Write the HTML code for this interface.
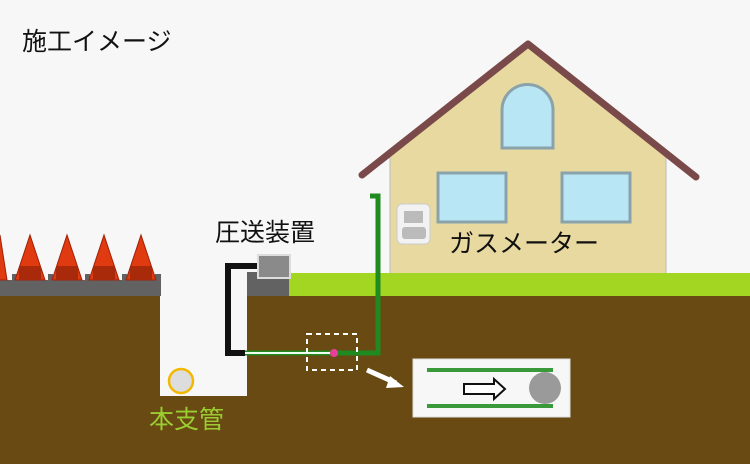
<!DOCTYPE html>
<html><head><meta charset="utf-8"><style>
body{margin:0;background:#f7f7f7;}
svg{display:block}
text{font-family:"Liberation Sans","Noto Sans CJK JP",sans-serif;}
</style></head><body>
<svg width="750" height="464" viewBox="0 0 750 464">
<rect width="750" height="464" fill="#f7f7f7"/>
<rect x="0" y="296" width="750" height="168" fill="#684a12"/>
<rect x="160" y="294" width="87" height="102" fill="#f7f7f7"/>
<rect x="0" y="280" width="161" height="16" fill="#626262"/>
<g fill="#626262">
<rect x="12" y="274" width="5" height="8"/><rect x="48" y="274" width="5" height="8"/><rect x="85" y="274" width="5" height="8"/><rect x="122" y="274" width="5" height="8"/><rect x="155" y="274" width="6" height="8"/>
</g>
<g fill="#e03a10" stroke="#a02008" stroke-width="1">
<polygon points="-7,280 0,235 7,280"/>
<polygon points="15,280 30,235 45,280"/>
<polygon points="52,280 67,235 82,280"/>
<polygon points="89,280 104,235 119,280"/>
<polygon points="126,280 141,235 156,280"/>
</g>
<g fill="#a82a0a">
<rect x="19" y="266" width="22" height="14"/><rect x="56" y="266" width="22" height="14"/><rect x="93" y="266" width="22" height="14"/><rect x="130" y="266" width="22" height="14"/>
</g>
<rect x="247" y="272" width="42" height="24" fill="#626262"/>
<!-- house -->
<polygon points="390,153 528,44 666,153 666,274 390,274" fill="#e8d9a0"/>
<line x1="390" y1="153" x2="390" y2="274" stroke="#bbb"/>
<line x1="666" y1="153" x2="666" y2="274" stroke="#bbb"/>
<polyline points="362,175 528,44 696,177" fill="none" stroke="#7a4a4a" stroke-width="7" stroke-linejoin="round" stroke-linecap="round"/>
<path d="M502,148 V110 A25.5,25.5 0 0 1 553,110 V148 Z" fill="#b8e6f5" stroke="#8aa3ab" stroke-width="3"/>
<rect x="438" y="173" width="68" height="49" fill="#b8e6f5" stroke="#8aa3ab" stroke-width="3"/>
<rect x="562" y="173" width="68" height="49" fill="#b8e6f5" stroke="#8aa3ab" stroke-width="3"/>
<rect x="397" y="204" width="33" height="40" rx="5" fill="#f2f2f2" stroke="#ccc"/>
<rect x="404" y="211" width="19" height="12" fill="#bbb"/>
<rect x="402" y="227" width="24" height="12" rx="3" fill="#bbb"/>
<rect x="289" y="273" width="461" height="23" fill="#a3d622"/>
<polyline points="370,196 378,196 378,353 243,353" fill="none" stroke="#1f8a20" stroke-width="5"/>
<line x1="243" y1="353" x2="330" y2="353" stroke="#f0fff0" stroke-width="2"/>
<polyline points="260,266 228,266 228,353 245,353" fill="none" stroke="#111" stroke-width="6"/>
<rect x="258" y="255" width="32" height="23" fill="#8a8a8a" stroke="#ddd" stroke-width="2"/>
<rect x="307" y="334" width="50" height="36" fill="none" stroke="#fff" stroke-width="2" stroke-dasharray="5,4"/>
<circle cx="334" cy="353" r="4" fill="#e8409a"/>
<line x1="367" y1="370" x2="396" y2="383" stroke="#fff" stroke-width="5"/>
<polygon points="404,387 390,376 386,388" fill="#fff"/>
<rect x="413" y="359" width="157" height="58" fill="#f7f7f7" stroke="#ddd"/>
<rect x="427" y="368" width="126" height="4" fill="#3a9a3a"/>
<rect x="427" y="404" width="126" height="4" fill="#3a9a3a"/>
<circle cx="545" cy="388" r="16" fill="#9a9a9a"/>
<polygon points="464,384 494,384 494,379 505,389 494,399 494,394 464,394" fill="#fff" stroke="#111" stroke-width="2"/>
<circle cx="181" cy="381" r="12" fill="#ddd" stroke="#f2b800" stroke-width="2.5"/>
<text x="22" y="50" font-size="25" fill="#111">施工イメージ</text>
<text x="215" y="241" font-size="25" fill="#111">圧送装置</text>
<text x="449" y="252" font-size="25" fill="#111">ガスメーター</text>
<text x="149" y="428" font-size="25" fill="#9acd32">本支管</text>
</svg>
</body></html>
